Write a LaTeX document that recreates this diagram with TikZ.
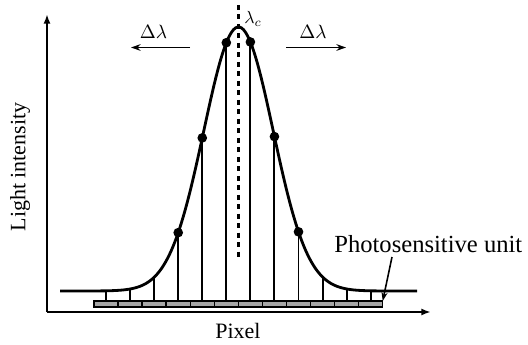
\documentclass[tikz,border=0pt]{standalone}
\usepackage{fontspec}
\setmainfont{Liberation Serif}
\usetikzlibrary{arrows.meta, positioning, calc}

\begin{document}
\begin{tikzpicture}[
        x=0.02cm, y=-0.02cm,
        axis/.style={line width=1.1pt, -{Latex[length=5.5pt, width=4pt]}},
        cell/.style={draw, line width=0.8pt, fill=gray!70, minimum width=24.06*0.02cm, minimum height=6*0.02cm, inner sep=0pt, outer sep=0pt},
        probe/.style={line width=1.1pt},
        peak/.style={line width=1.6pt},
        dot/.style={circle, fill=black, inner sep=0pt, minimum size=5.5pt},
        arrow/.style={line width=0.9pt, -{Stealth[length=5.5pt, width=3.8pt]}},
        lbl/.style={font=\fontsize{12.5}{14}\selectfont}
    ]
        \useasboundingbox (0,0) rectangle (528,345);
        \def\gauss#1{291-264*exp(-0.5*((#1-238.5)/34.7)^2)}

        % --- axes ---
        \coordinate (O) at (47,312);
        \coordinate (ytip) at (47,14);
        \coordinate (xtip) at (431,312);
        \draw[axis] (O) -- (ytip);
        \draw[axis] (O) -- (xtip);
        \node[lbl, rotate=90] (ylabel) at (20,167) {Light intensity};
        \node[font=\fontsize{12.5}{14}\selectfont] (xlabel) at (238,331) {Pixel};

        % --- pixel strip, 12 photosensitive cells ---
        \foreach \i in {1,...,12} {
            \node[cell] (cell\i) at (94+24.06*\i-12.03, 304) {};
        }

        % --- curve ---
        \draw[peak] plot[domain=60:417, samples=180, smooth] (\x, {\gauss{\x}});

        % vertical lines from each cell up to the curve
        \foreach \i in {1,...,12} {
            \pgfmathsetmacro{\cx}{94+24.06*\i-12.03}
            \pgfmathsetmacro{\cy}{\gauss{\cx}}
            \coordinate (top\i) at (\cx,\cy);
            \draw[probe] (cell\i.north) -- (top\i);
        }
        % sampled points
        \foreach \i in {4,5,6,7,8,9} {
            \node[dot] (pt\i) at (top\i) {};
        }

        % --- centre wavelength ---
        \coordinate (ctop) at (238.5,5);
        \coordinate (cbot) at (238.5,258);
        \draw[line width=1.4pt, dash pattern=on 2.8pt off 2.6pt] (ctop) -- (cbot);
        \node[font=\fontsize{10}{12}\selectfont] (lamc) at (253,19) {$\lambda_c$};

        % --- shift arrows ---
        \coordinate (la) at (190,47.5);
        \coordinate (lb) at (131,47.5);
        \coordinate (ra) at (286,47.5);
        \coordinate (rb) at (346,47.5);
        \draw[arrow] (la) -- (lb);
        \draw[arrow] (ra) -- (rb);
        \node[font=\fontsize{10.5}{12}\selectfont] (dleft) at (153.5,32) {$\Delta\lambda$};
        \node[font=\fontsize{10.5}{12}\selectfont] (dright) at (313,32) {$\Delta\lambda$};

        % --- label for the cells ---
        \node[font=\fontsize{14}{16}\selectfont, anchor=base west, inner sep=0pt] (unitlbl) at (334,252) {Photosensitive unit};
        \coordinate (ustart) at (392,257);
        \draw[line width=0.9pt, -{Stealth[length=5pt, width=3.5pt]}] (ustart) -- (cell12.north east);
\end{tikzpicture}
\end{document}
